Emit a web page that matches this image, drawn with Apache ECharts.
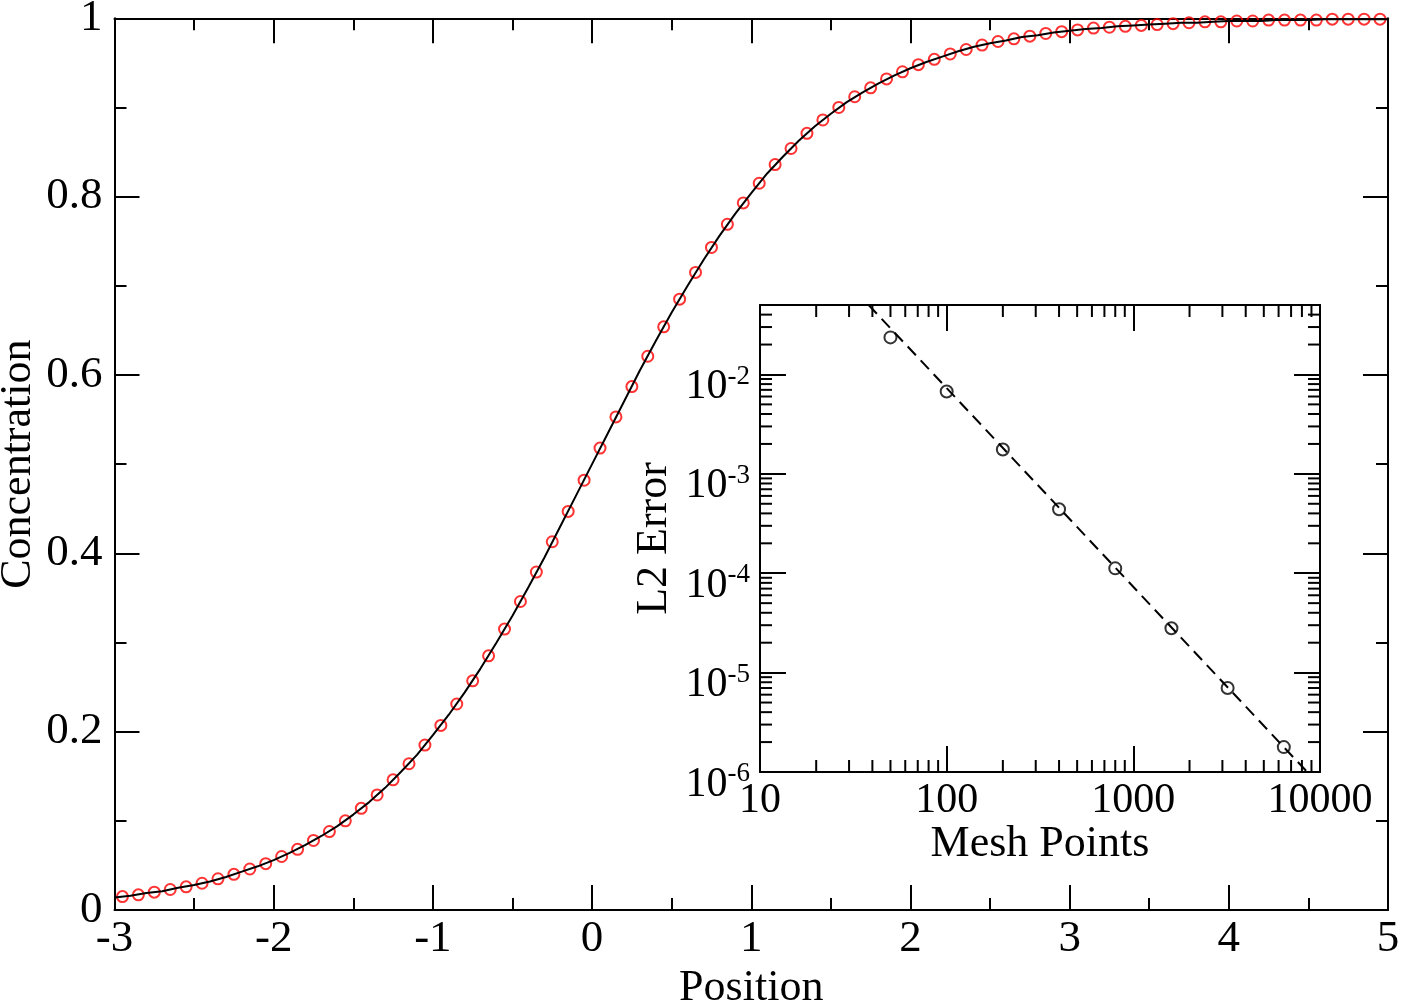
<!DOCTYPE html>
<html>
<head>
<meta charset="utf-8">
<script src="https://cdn.jsdelivr.net/npm/echarts@6/dist/echarts.min.js"></script>
<style>
  html, body { margin: 0; padding: 0; background: #fff; }
  #chart { width: 1403px; height: 1003px; }
</style>
</head>
<body>
<div id="chart"></div>
<script>
// exact profile (solid line)
const exactX = [
  -3, -2.9, -2.8, -2.7, -2.6, -2.5, -2.4, -2.3, -2.2, -2.1,
  -2, -1.9, -1.8, -1.7, -1.6, -1.5, -1.4, -1.3, -1.2, -1.1,
  -1, -0.9, -0.8, -0.7, -0.6, -0.5, -0.4, -0.3, -0.2, -0.1,
  0, 0.1, 0.2, 0.3, 0.4, 0.5, 0.6, 0.7, 0.8, 0.9,
  1, 1.1, 1.2, 1.3, 1.4, 1.5, 1.6, 1.7, 1.8, 1.9,
  2, 2.1, 2.2, 2.3, 2.4, 2.5, 2.6, 2.7, 2.8, 2.9,
  3, 3.1, 3.2, 3.3, 3.4, 3.5, 3.6, 3.7, 3.8, 3.9,
  4, 4.1, 4.2, 4.3, 4.4, 4.5, 4.6, 4.7, 4.8, 4.9,
  5
]
const exactC = [
  0.014, 0.016, 0.019, 0.021, 0.025, 0.028, 0.032, 0.037, 0.043, 0.049,
  0.056, 0.064, 0.073, 0.083, 0.094, 0.107, 0.121, 0.137, 0.155, 0.174,
  0.196, 0.219, 0.244, 0.271, 0.300, 0.330, 0.362, 0.395, 0.430, 0.465,
  0.500, 0.535, 0.570, 0.605, 0.638, 0.670, 0.700, 0.729, 0.756, 0.781,
  0.804, 0.826, 0.845, 0.863, 0.879, 0.893, 0.906, 0.917, 0.927, 0.936,
  0.944, 0.951, 0.957, 0.963, 0.968, 0.972, 0.975, 0.979, 0.981, 0.984,
  0.986, 0.988, 0.989, 0.991, 0.992, 0.993, 0.994, 0.995, 0.995, 0.996,
  0.997, 0.997, 0.997, 0.998, 0.998, 0.998, 0.999, 0.999, 0.999, 0.999,
  0.999
]
// numerical solution (red circles, cell centres)
const numX = [
  -2.95, -2.85, -2.75, -2.65, -2.55, -2.45, -2.35, -2.25, -2.15, -2.05,
  -1.95, -1.85, -1.75, -1.65, -1.55, -1.45, -1.35, -1.25, -1.15, -1.05,
  -0.95, -0.85, -0.75, -0.65, -0.55, -0.45, -0.35, -0.25, -0.15, -0.05,
  0.05, 0.15, 0.25, 0.35, 0.45, 0.55, 0.65, 0.75, 0.85, 0.95,
  1.05, 1.15, 1.25, 1.35, 1.45, 1.55, 1.65, 1.75, 1.85, 1.95,
  2.05, 2.15, 2.25, 2.35, 2.45, 2.55, 2.65, 2.75, 2.85, 2.95,
  3.05, 3.15, 3.25, 3.35, 3.45, 3.55, 3.65, 3.75, 3.85, 3.95,
  4.05, 4.15, 4.25, 4.35, 4.45, 4.55, 4.65, 4.75, 4.85, 4.95
]
const numC = [
  0.015, 0.017, 0.020, 0.023, 0.026, 0.030, 0.035, 0.040, 0.046, 0.052,
  0.060, 0.068, 0.078, 0.088, 0.100, 0.114, 0.129, 0.146, 0.164, 0.185,
  0.207, 0.231, 0.257, 0.285, 0.315, 0.346, 0.379, 0.413, 0.447, 0.482,
  0.518, 0.553, 0.587, 0.621, 0.654, 0.685, 0.715, 0.743, 0.769, 0.793,
  0.815, 0.836, 0.854, 0.871, 0.886, 0.900, 0.912, 0.922, 0.932, 0.940,
  0.948, 0.954, 0.960, 0.965, 0.970, 0.974, 0.977, 0.980, 0.983, 0.985,
  0.987, 0.989, 0.990, 0.991, 0.992, 0.993, 0.994, 0.995, 0.996, 0.996,
  0.997, 0.997, 0.998, 0.998, 0.998, 0.998, 0.999, 0.999, 0.999, 0.999
]

// inset: convergence
const meshPoints = [50, 100, 200, 400, 800, 1600, 3200, 6400]
const l2Error = [0.0236, 0.00675, 0.00176, 0.00044, 0.000112, 0.000028, 0.0000070, 0.00000178]
// slope -2 reference line
const fitN = [38.2, 8540]
const fitErr = [0.05, 0.000001]

// log minor tick positions of the inset
const insetMinorN = [
  20, 30, 40, 50, 60, 70, 80, 90,
  200, 300, 400, 500, 600, 700, 800, 900,
  2000, 3000, 4000, 5000, 6000, 7000, 8000, 9000
]
const insetMinorErr = [
  2e-6, 3e-6, 4e-6, 5e-6, 6e-6, 7e-6, 8e-6, 9e-6,
  2e-5, 3e-5, 4e-5, 5e-5, 6e-5, 7e-5, 8e-5, 9e-5,
  2e-4, 3e-4, 4e-4, 5e-4, 6e-4, 7e-4, 8e-4, 9e-4,
  2e-3, 3e-3, 4e-3, 5e-3, 6e-3, 7e-3, 8e-3, 9e-3,
  2e-2, 3e-2, 4e-2
]

const FONT = 'Liberation Serif, Times New Roman, serif'
const black = '#000'

// 边框轴：刻度朝内
const frameAxis = (extra) => ({
  axisLine: { show: true, onZero: false, lineStyle: { color: black, width: 2 } },
  axisTick: { show: true, inside: true, length: 25, lineStyle: { color: black, width: 2 } },
  minorTick: { show: true, splitNumber: 2, length: 12, lineStyle: { color: black, width: 2 } },
  splitLine: { show: false },
  minorSplitLine: { show: false },
  ...extra
})

const hiddenLabel = { show: false }
const mainTickFont = { color: black, fontFamily: FONT, fontSize: 45 }
const tickFont = { color: black, fontFamily: FONT, fontSize: 42 }
const nameFont = { color: black, fontFamily: FONT, fontSize: 44 }

const isDecade = (v) => Math.abs(Math.log10(v) - Math.round(Math.log10(v))) < 1e-6

const minorTickItem = (vertical) => (params, api) => {
  const cs = params.coordSys
  const style = { stroke: black, lineWidth: 2 }
  if (vertical) {
    const x = api.coord([api.value(0), 1e-3])[0]
    return {
      type: 'group',
      children: [
        { type: 'line', shape: { x1: x, y1: cs.y + cs.height, x2: x, y2: cs.y + cs.height - 12 }, style },
        { type: 'line', shape: { x1: x, y1: cs.y, x2: x, y2: cs.y + 12 }, style }
      ]
    }
  }
  const y = api.coord([100, api.value(1)])[1]
  return {
    type: 'group',
    children: [
      { type: 'line', shape: { x1: cs.x, y1: y, x2: cs.x + 12, y2: y }, style },
      { type: 'line', shape: { x1: cs.x + cs.width, y1: y, x2: cs.x + cs.width - 12, y2: y }, style }
    ]
  }
}

const chart = echarts.init(document.getElementById('chart'), null, { renderer: 'canvas' })

chart.setOption({
  animation: false,
  backgroundColor: '#fff',
  grid: [
    { left: 114.5, right: 15, top: 18.3, bottom: 93, outerBoundsMode: 'none', containLabel: false },
    {
      left: 760, right: 83, top: 305, bottom: 231, outerBoundsMode: 'none', containLabel: false,
      show: true, backgroundColor: '#fff', borderWidth: 0
    }
  ],
  xAxis: [
    frameAxis({
      gridIndex: 0, type: 'value', position: 'bottom', min: -3, max: 5, interval: 1,
      axisLabel: { ...mainTickFont, margin: 7 },
      name: 'Position', nameLocation: 'middle', nameGap: 50, nameTextStyle: nameFont
    }),
    frameAxis({
      gridIndex: 0, type: 'value', position: 'top', min: -3, max: 5, interval: 1,
      axisLabel: hiddenLabel
    }),
    frameAxis({
      gridIndex: 1, type: 'log', logBase: 10, position: 'bottom', min: 10, max: 10000,
      axisTick: { show: true, inside: true, length: 26, lineStyle: { color: black, width: 2 } },
      minorTick: { show: false },
      axisLabel: {
        ...tickFont, margin: 8, showMinLabel: true, showMaxLabel: true,
        formatter: (v) => (isDecade(v) ? String(Math.round(v)) : '')
      },
      name: 'Mesh Points', nameLocation: 'middle', nameGap: 48, nameTextStyle: nameFont
    }),
    frameAxis({
      gridIndex: 1, type: 'log', logBase: 10, position: 'top', min: 10, max: 10000,
      axisTick: { show: true, inside: true, length: 26, lineStyle: { color: black, width: 2 } },
      minorTick: { show: false },
      axisLabel: hiddenLabel
    })
  ],
  yAxis: [
    frameAxis({
      gridIndex: 0, type: 'value', position: 'left', min: 0, max: 1, interval: 0.2,
      axisLabel: { ...mainTickFont, margin: 12 },
      name: 'Concentration', nameLocation: 'middle', nameGap: 74, nameMoveOverlap: false,
      nameTextStyle: nameFont
    }),
    frameAxis({
      gridIndex: 0, type: 'value', position: 'right', min: 0, max: 1, interval: 0.2,
      axisLabel: hiddenLabel
    }),
    frameAxis({
      gridIndex: 1, type: 'log', logBase: 10, position: 'left', min: 1e-6, max: 0.05,
      axisTick: { show: true, inside: true, length: 26, lineStyle: { color: black, width: 2 } },
      minorTick: { show: false },
      axisLabel: {
        ...tickFont, margin: 10, showMinLabel: true, showMaxLabel: true,
        padding: [22, 0, 0, 0],
        formatter: (v) => (isDecade(v) ? '{b|10}{s|' + Math.round(Math.log10(v)) + '}' : ''),
        rich: {
          b: { fontFamily: FONT, fontSize: 42, color: black, verticalAlign: 'bottom' },
          s: { fontFamily: FONT, fontSize: 27, color: black, verticalAlign: 'bottom', padding: [0, 0, 18, 0] }
        }
      },
      name: 'L2 Error', nameLocation: 'middle', nameGap: 84, nameTextStyle: nameFont
    }),
    frameAxis({
      gridIndex: 1, type: 'log', logBase: 10, position: 'right', min: 1e-6, max: 0.05,
      axisTick: { show: true, inside: true, length: 26, lineStyle: { color: black, width: 2 } },
      minorTick: { show: false },
      axisLabel: hiddenLabel
    })
  ],
  series: [
    {
      name: 'numerical', type: 'scatter', xAxisIndex: 0, yAxisIndex: 0,
      symbol: 'circle', symbolSize: 11, z: 2,
      itemStyle: { color: 'rgba(0,0,0,0)', borderColor: '#ff0000', borderWidth: 2 },
      data: numX.map((x, i) => [x, numC[i]])
    },
    {
      name: 'exact', type: 'line', xAxisIndex: 0, yAxisIndex: 0,
      showSymbol: false, symbol: 'none', z: 3,
      lineStyle: { color: black, width: 2 },
      data: exactX.map((x, i) => [x, exactC[i]])
    },
    {
      name: 'error', type: 'scatter', xAxisIndex: 2, yAxisIndex: 2,
      symbol: 'circle', symbolSize: 12, z: 4,
      itemStyle: { color: 'rgba(0,0,0,0)', borderColor: black, borderWidth: 2 },
      data: meshPoints.map((n, i) => [n, l2Error[i]])
    },
    {
      name: 'fit', type: 'line', xAxisIndex: 2, yAxisIndex: 2,
      showSymbol: false, symbol: 'none', z: 5,
      lineStyle: { color: black, width: 2, type: [12, 7] },
      data: fitN.map((n, i) => [n, fitErr[i]])
    },
    {
      type: 'custom', xAxisIndex: 2, yAxisIndex: 2, silent: true, z: 6,
      renderItem: minorTickItem(true),
      data: insetMinorN.map((n) => [n, 1e-3])
    },
    {
      type: 'custom', xAxisIndex: 2, yAxisIndex: 2, silent: true, z: 6,
      renderItem: minorTickItem(false),
      data: insetMinorErr.map((e) => [100, e])
    }
  ]
})
</script>
</body>
</html>
